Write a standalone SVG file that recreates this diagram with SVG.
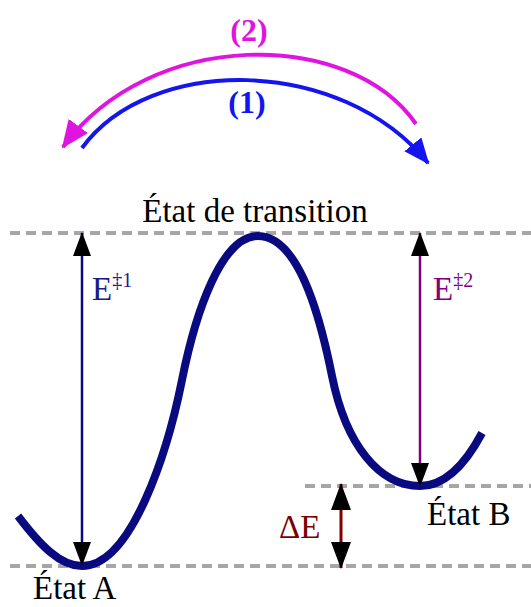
<svg xmlns="http://www.w3.org/2000/svg" width="531" height="607" viewBox="0 0 531 607">
<style>
.lbl{font-family:"Liberation Serif","Times New Roman",serif;font-size:33px;fill:#000}
.dash{stroke:#a6a6a6;stroke-width:4;stroke-dasharray:10 6;fill:none}
.num{font-family:"Liberation Serif","Times New Roman",serif;font-size:32px;font-weight:bold}
</style>
<defs>
<marker id="blk" markerUnits="userSpaceOnUse" markerWidth="24" markerHeight="20" viewBox="0 0 24 20" refX="23" refY="9" orient="auto">
<path d="M0,0 L24,9 L0,18 Z" fill="#000"/>
</marker>
<marker id="blk2" markerUnits="userSpaceOnUse" markerWidth="27" markerHeight="22" viewBox="0 0 27 22" refX="26" refY="10" orient="auto">
<path d="M0,0 L27,10 L0,20 Z" fill="#000"/>
</marker>
<marker id="mag" markerUnits="userSpaceOnUse" markerWidth="28" markerHeight="24" viewBox="0 0 28 24" refX="26" refY="12" orient="auto">
<path d="M0,0 L28,12 L0,24 Z" fill="#e014e0"/>
</marker>
<marker id="blu" markerUnits="userSpaceOnUse" markerWidth="26" markerHeight="22" viewBox="0 0 26 22" refX="24" refY="11" orient="auto">
<path d="M0,0 L26,11 L0,22 Z" fill="#1414ee"/>
</marker>
</defs>
<g id="levels">
<line class="dash" x1="10" y1="233" x2="531" y2="233"/>
<line class="dash" x1="10" y1="566" x2="531" y2="566"/>
<line class="dash" x1="305" y1="486" x2="531" y2="486"/>
</g>
<g id="curve">
<path d="M18,516 C40,545 60,566 82,566 C132,566 168,450 182,380 C196,310 222,236 258,236 C296,236 318,306 332,376 C346,446 380,486 420,486 C445,486 465,465 482,433" fill="none" stroke="#0a0a80" stroke-width="8" stroke-linecap="butt"/>
</g>
<g id="connectors">
<path d="M416,124 C350,28 150,28 63,147" fill="none" stroke="#e014e0" stroke-width="4" marker-end="url(#mag)"/>
<path d="M82,148 C150,55 340,55 428,163" fill="none" stroke="#1414ee" stroke-width="4" marker-end="url(#blu)"/>
<line x1="82" y1="400" x2="82" y2="233" stroke="#0a0a80" stroke-width="2.5" marker-end="url(#blk)"/>
<line x1="82" y1="400" x2="82" y2="565" stroke="#0a0a80" stroke-width="2.5" marker-end="url(#blk)"/>
<line x1="420" y1="360" x2="420" y2="233" stroke="#800080" stroke-width="2.5" marker-end="url(#blk)"/>
<line x1="420" y1="360" x2="420" y2="486" stroke="#800080" stroke-width="2.5" marker-end="url(#blk)"/>
<line x1="341" y1="526" x2="341" y2="484" stroke="#800000" stroke-width="3" marker-end="url(#blk2)"/>
<line x1="341" y1="526" x2="341" y2="568" stroke="#800000" stroke-width="3" marker-end="url(#blk2)"/>
</g>
<g id="label-2"><text class="num" x="249" y="41" text-anchor="middle" fill="#e014e0">(2)</text></g>
<g id="label-1"><text class="num" x="247" y="113" text-anchor="middle" fill="#1414ee">(1)</text></g>
<g id="transition"><text class="lbl" x="255" y="222" text-anchor="middle">État de transition</text></g>
<g id="etatA"><text class="lbl" x="33" y="599">État A</text></g>
<g id="etatB"><text class="lbl" x="427" y="525">État B</text></g>
<g id="e1"><text class="lbl" x="92" y="300" style="fill:#1a1a8c">E<tspan font-size="20" dy="-13">‡1</tspan></text></g>
<g id="e2"><text class="lbl" x="433" y="300" style="fill:#800080">E<tspan font-size="20" dy="-13">‡2</tspan></text></g>
<g id="dE"><text class="lbl" x="279" y="538" style="fill:#7a0000">ΔE</text></g>
</svg>
